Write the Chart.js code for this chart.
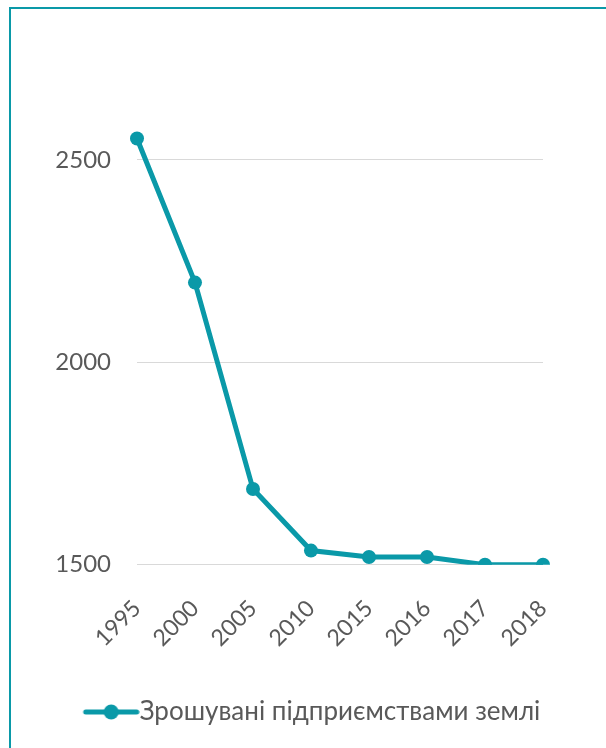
<!DOCTYPE html>
<html>
<head>
<meta charset="utf-8">
<script src="https://cdn.jsdelivr.net/npm/chart.js@4/dist/chart.umd.min.js"></script>
<style>
  html, body { margin:0; padding:0; background:#fff; }
  #frame { position:absolute; left:9px; top:7px; width:620px; height:800px;
           border-top:2px solid #0a99a8; border-left:2px solid #0a99a8; }
  #wrap { position:absolute; left:0; top:0; width:606px; height:748px; }
</style>
</head>
<body>
<div id="frame"></div>
<div id="wrap"><canvas id="chart"></canvas></div>
<script>
// data
const years = ['1995', '2000', '2005', '2010', '2015', '2016', '2017', '2018'];
const irrigated = [2553, 2197, 1687, 1535, 1519, 1519, 1500, 1500];
const seriesName = 'Зрошувані підприємствами землі';
const yTicks = [1500, 2000, 2500];
const yMin = 1500, yMax = 2700;

const teal = '#0a99a8';
const grey = '#595959';
const font = "Lato, 'Open Sans', sans-serif";
const legendFont = 26;
const legendBox = 112;   // wide box, marker sits at its right end

// legend marker: a short line with a dot, drawn at the right end of the box
function legendMarker() {
    const c = document.createElement('canvas');
    c.width = legendBox + legendFont; c.height = 18;
    const g = c.getContext('2d');
    const x0 = c.width - 57;
    g.strokeStyle = teal; g.lineWidth = 5; g.lineCap = 'round';
    g.beginPath(); g.moveTo(x0 + 3, 9); g.lineTo(c.width - 3, 9); g.stroke();
    g.fillStyle = teal;
    g.beginPath(); g.arc(x0 + 28.5, 9, 7.5, 0, Math.PI * 2); g.fill();
    return c;
}
const marker = legendMarker();

new Chart(document.getElementById('chart'), {
    type: 'line',
    data: {
        labels: years,
        datasets: [{
            label: seriesName,
            data: irrigated,
            borderColor: teal,
            backgroundColor: teal,
            borderWidth: 5,
            pointRadius: 7,
            pointHoverRadius: 7,
            pointBackgroundColor: teal,
            pointBorderWidth: 0,
            tension: 0
        }]
    },
    options: {
        responsive: true,
        maintainAspectRatio: false,
        animation: false,
        layout: { padding: { left: 12, right: 63, top: 79, bottom: 13 } },
        plugins: {
            tooltip: { enabled: false },
            legend: {
                position: 'bottom',
                labels: {
                    usePointStyle: true,
                    pointStyleWidth: legendBox,
                    color: grey,
                    font: { family: font, size: legendFont },
                    padding: 30,
                    generateLabels: chart =>
                        Chart.defaults.plugins.legend.labels.generateLabels(chart)
                            .map(l => Object.assign(l, { pointStyle: marker, lineWidth: 0 }))
                }
            }
        },
        scales: {
            x: {
                offset: false,
                grid: { display: false },
                border: { display: false },
                afterFit: s => { s.height -= 5; },
                ticks: {
                    color: grey,
                    font: { family: font, size: 23 },
                    minRotation: 45,
                    maxRotation: 45,
                    padding: 22
                }
            },
            y: {
                min: yMin,
                max: yMax,
                afterBuildTicks: s => { s.ticks = yTicks.map(v => ({ value: v })); },
                afterFit: s => { s.width = 125; },
                grid: { color: '#d9d9d9', lineWidth: 1, drawTicks: false },
                border: { display: false },
                ticks: {
                    color: grey,
                    font: { family: font, size: 24 },
                    padding: 26,
                    callback: v => String(v)
                }
            }
        }
    }
});
</script>
</body>
</html>
